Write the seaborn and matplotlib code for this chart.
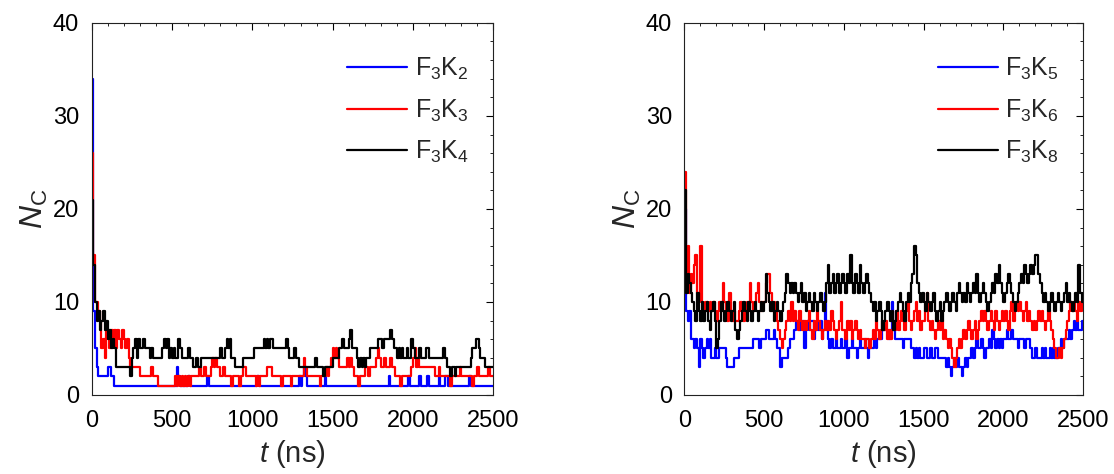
import numpy as np
import pandas as pd
import matplotlib
matplotlib.use("Agg")
import matplotlib.pyplot as plt
import seaborn as sns

sns.set_theme(style="white")
plt.rcParams["font.family"] = ["Liberation Sans", "DejaVu Sans"]
plt.rcParams["mathtext.fontset"] = "custom"
plt.rcParams["mathtext.rm"] = "Liberation Sans"
plt.rcParams["mathtext.it"] = "Liberation Sans:italic"
plt.rcParams["mathtext.default"] = "regular"

# sampling grid of the trajectories (ns)
t_ns = np.arange(0, 2501, 10)

# ---- left panel: number of clusters N_C vs t ----
nc_F3K2 = [
    34, 9, 5, 3, 2, 2, 2, 2, 2, 2, 3, 3, 2, 2, 1, 1, 1, 1, 1, 1, 1, 1, 1, 1, 1,
    1, 1, 1, 1, 1, 1, 1, 1, 1, 1, 1, 1, 1, 1, 1, 1, 1, 1, 1, 1, 1, 1, 1, 1, 1,
    1, 1, 1, 3, 2, 1, 1, 1, 1, 1, 2, 1, 1, 1, 1, 1, 1, 1, 1, 1, 1, 1, 2, 1, 1,
    1, 1, 1, 1, 1, 1, 1, 1, 1, 1, 1, 1, 1, 1, 1, 1, 1, 1, 1, 1, 1, 1, 1, 1, 1,
    1, 1, 1, 2, 1, 1, 1, 1, 1, 1, 1, 1, 1, 1, 1, 1, 1, 1, 1, 1, 1, 1, 1, 1, 1,
    1, 1, 1, 1, 2, 1, 2, 3, 2, 1, 1, 1, 1, 1, 1, 1, 1, 1, 1, 1, 2, 1, 1, 1, 1,
    1, 1, 1, 1, 1, 1, 1, 1, 1, 1, 1, 1, 1, 1, 1, 1, 1, 1, 1, 1, 1, 1, 1, 1, 1,
    1, 1, 1, 1, 1, 1, 1, 1, 1, 1, 2, 1, 1, 1, 1, 1, 1, 1, 1, 1, 1, 1, 2, 1, 1,
    1, 1, 1, 1, 2, 1, 1, 1, 1, 2, 1, 1, 1, 1, 1, 1, 2, 1, 1, 1, 2, 2, 1, 1, 1,
    1, 1, 1, 1, 1, 1, 1, 1, 1, 1, 2, 1, 1, 1, 1, 1, 1, 1, 1, 1, 1, 1, 1, 1, 1,
    1]
nc_F3K3 = [
    26, 15, 10, 10, 9, 8, 5, 6, 4, 7, 6, 5, 7, 6, 7, 5, 7, 6, 5, 7, 6, 5, 6, 4, 3,
    3, 3, 3, 3, 3, 2, 2, 2, 2, 2, 2, 2, 3, 2, 2, 2, 1, 1, 1, 1, 1, 1, 1, 1, 1,
    1, 1, 2, 1, 2, 1, 2, 1, 2, 1, 2, 1, 2, 2, 2, 2, 2, 3, 2, 2, 3, 2, 2, 2, 3,
    4, 3, 4, 3, 3, 2, 2, 3, 2, 2, 2, 2, 1, 2, 2, 2, 2, 1, 2, 3, 3, 2, 2, 2, 2,
    2, 2, 1, 2, 1, 2, 2, 2, 2, 3, 3, 3, 2, 2, 2, 2, 2, 2, 1, 2, 2, 2, 2, 2, 1,
    2, 2, 2, 2, 2, 2, 2, 4, 3, 2, 2, 2, 2, 2, 2, 2, 2, 1, 2, 2, 2, 3, 2, 3, 4,
    5, 4, 5, 4, 3, 3, 3, 3, 3, 4, 3, 4, 3, 2, 2, 2, 1, 2, 2, 2, 3, 3, 2, 3, 3,
    3, 3, 4, 5, 4, 3, 3, 4, 3, 3, 3, 4, 3, 3, 2, 2, 2, 1, 2, 2, 2, 2, 2, 2, 3,
    4, 5, 3, 4, 3, 3, 3, 3, 3, 3, 3, 3, 3, 3, 2, 2, 3, 2, 2, 2, 2, 2, 2, 1, 2,
    2, 2, 2, 2, 3, 2, 2, 2, 2, 2, 2, 2, 1, 2, 2, 3, 2, 2, 2, 2, 2, 2, 3, 2, 2,
    2]
nc_F3K4 = [
    21, 14, 10, 8, 9, 7, 8, 9, 7, 8, 6, 7, 5, 6, 5, 3, 3, 3, 3, 3, 3, 3, 3, 3, 2,
    4, 5, 6, 4, 6, 5, 5, 6, 5, 5, 5, 4, 5, 4, 4, 4, 4, 4, 4, 5, 6, 5, 6, 4, 5,
    4, 5, 4, 4, 6, 5, 4, 4, 4, 4, 5, 4, 4, 3, 3, 4, 3, 3, 4, 4, 4, 4, 4, 4, 4,
    4, 4, 4, 4, 4, 5, 4, 4, 5, 6, 5, 6, 4, 4, 3, 3, 3, 3, 3, 4, 4, 4, 4, 4, 4,
    4, 5, 5, 5, 5, 5, 5, 6, 5, 6, 5, 6, 6, 5, 5, 5, 5, 5, 5, 5, 5, 6, 5, 4, 4,
    4, 5, 4, 4, 3, 3, 3, 3, 3, 3, 3, 3, 3, 3, 4, 3, 3, 3, 3, 2, 3, 3, 3, 3, 3,
    4, 4, 4, 4, 5, 5, 6, 5, 5, 5, 6, 7, 5, 5, 5, 4, 3, 4, 3, 4, 3, 4, 4, 5, 5,
    5, 5, 5, 6, 6, 6, 5, 6, 6, 6, 6, 7, 6, 5, 5, 4, 5, 4, 5, 4, 4, 5, 4, 4, 6,
    5, 4, 4, 4, 5, 4, 4, 4, 5, 5, 4, 4, 4, 4, 4, 4, 4, 4, 4, 5, 4, 3, 3, 2, 3,
    3, 2, 3, 3, 3, 3, 3, 3, 3, 3, 3, 4, 5, 5, 6, 6, 5, 4, 4, 4, 3, 3, 3, 3, 3,
    3]

# ---- right panel ----
nc_F3K5 = [
    20, 9, 8, 9, 6, 6, 5, 6, 5, 3, 6, 5, 4, 5, 6, 5, 6, 4, 4, 5, 4, 4, 5, 5, 5,
    5, 4, 3, 3, 3, 3, 4, 4, 4, 5, 5, 5, 5, 5, 5, 5, 5, 5, 6, 6, 6, 6, 5, 6, 6,
    6, 7, 7, 6, 6, 6, 7, 6, 5, 5, 3, 4, 4, 4, 4, 5, 6, 6, 6, 7, 8, 8, 7, 8, 8,
    5, 7, 8, 7, 8, 8, 6, 7, 8, 7, 8, 6, 7, 11, 8, 6, 5, 6, 5, 5, 6, 5, 5, 6, 5,
    5, 6, 4, 5, 5, 6, 5, 5, 4, 5, 6, 5, 5, 6, 5, 4, 5, 5, 5, 6, 5, 6, 6, 6, 7,
    7, 7, 7, 6, 7, 10, 7, 6, 6, 6, 6, 6, 5, 6, 6, 6, 6, 5, 5, 4, 5, 4, 5, 4, 4,
    5, 5, 4, 4, 5, 4, 4, 5, 5, 4, 4, 4, 4, 4, 3, 4, 3, 2, 3, 4, 3, 4, 3, 3, 2,
    3, 4, 3, 4, 4, 5, 4, 5, 6, 5, 5, 6, 5, 4, 5, 5, 6, 5, 7, 6, 5, 6, 5, 6, 5,
    6, 6, 7, 6, 6, 7, 6, 6, 6, 5, 6, 6, 6, 5, 6, 6, 6, 5, 4, 4, 5, 4, 4, 4, 5,
    4, 5, 4, 4, 5, 4, 5, 4, 4, 5, 5, 6, 5, 6, 6, 6, 7, 6, 7, 8, 7, 8, 7, 7, 8,
    8]
nc_F3K6 = [
    24, 12, 16, 11, 13, 12, 14, 15, 11, 10, 16, 10, 9, 10, 10, 9, 10, 9, 10, 9, 8, 9, 10, 9, 12,
    10, 9, 8, 11, 9, 8, 9, 8, 8, 9, 10, 9, 8, 9, 10, 9, 12, 10, 9, 10, 11, 12, 10, 9, 10,
    10, 12, 13, 13, 11, 9, 10, 9, 8, 7, 6, 5, 6, 7, 8, 9, 8, 10, 8, 9, 8, 7, 9, 8, 7,
    8, 7, 8, 9, 7, 6, 8, 7, 9, 8, 7, 6, 7, 8, 7, 8, 7, 9, 8, 7, 6, 7, 8, 10, 7,
    7, 6, 8, 7, 8, 6, 7, 8, 7, 6, 7, 6, 6, 5, 6, 6, 5, 6, 7, 6, 8, 7, 6, 7, 8,
    7, 8, 6, 7, 6, 7, 8, 7, 9, 7, 8, 9, 8, 7, 9, 10, 8, 7, 8, 9, 10, 8, 9, 7, 8,
    8, 9, 11, 8, 7, 8, 7, 6, 7, 8, 7, 8, 6, 7, 6, 5, 6, 5, 4, 3, 4, 5, 6, 5, 6,
    7, 6, 7, 8, 7, 6, 7, 8, 6, 7, 8, 9, 8, 9, 8, 7, 8, 9, 8, 7, 9, 8, 7, 8, 9,
    8, 9, 8, 7, 9, 10, 8, 9, 10, 9, 10, 9, 8, 9, 10, 8, 9, 8, 7, 8, 7, 8, 9, 8, 9,
    8, 7, 8, 9, 8, 7, 6, 5, 4, 4, 5, 4, 5, 6, 7, 8, 9, 10, 9, 10, 9, 8, 10, 9, 10,
    10]
nc_F3K8 = [
    22, 11, 13, 12, 11, 10, 9, 8, 11, 9, 8, 10, 8, 9, 10, 8, 7, 9, 10, 8, 5, 6, 8, 10, 9,
    8, 9, 10, 9, 8, 9, 10, 7, 6, 7, 8, 9, 10, 9, 8, 10, 9, 8, 9, 10, 9, 8, 9, 10, 9,
    10, 13, 11, 10, 9, 10, 8, 9, 10, 9, 8, 9, 10, 11, 13, 12, 11, 12, 11, 12, 11, 10, 11, 12, 10,
    11, 9, 10, 11, 10, 9, 11, 10, 9, 10, 11, 10, 9, 10, 12, 14, 11, 12, 13, 11, 12, 13, 11, 12, 13,
    12, 11, 13, 12, 15, 12, 11, 13, 12, 11, 14, 12, 11, 12, 13, 12, 11, 10, 9, 10, 8, 9, 10, 9, 7,
    8, 9, 10, 9, 8, 9, 7, 8, 9, 10, 11, 10, 9, 8, 10, 11, 10, 12, 13, 16, 15, 12, 11, 10, 11,
    10, 9, 11, 10, 9, 10, 11, 9, 8, 9, 10, 8, 9, 10, 11, 10, 9, 10, 11, 10, 9, 11, 12, 11, 10,
    11, 10, 12, 11, 10, 11, 12, 11, 13, 11, 10, 11, 12, 11, 10, 9, 10, 11, 12, 11, 13, 12, 14, 12, 11,
    10, 11, 12, 13, 12, 11, 10, 9, 10, 11, 12, 13, 12, 14, 13, 12, 13, 14, 13, 14, 15, 15, 13, 12, 11,
    10, 11, 10, 9, 10, 11, 10, 9, 10, 11, 10, 9, 10, 11, 12, 10, 11, 10, 9, 10, 11, 10, 14, 11, 10,
    11]

left_series = {"F$_3$K$_2$": nc_F3K2, "F$_3$K$_3$": nc_F3K3, "F$_3$K$_4$": nc_F3K4}
right_series = {"F$_3$K$_5$": nc_F3K5, "F$_3$K$_6$": nc_F3K6, "F$_3$K$_8$": nc_F3K8}
colors = ["#0000ff", "#ff0000", "#000000"]


def to_long(series):
    frames = []
    for name, vals in series.items():
        frames.append(pd.DataFrame({"t": t_ns, "Nc": vals, "system": name}))
    return pd.concat(frames, ignore_index=True)


fig = plt.figure(figsize=(11.14, 4.74), dpi=100)
ax_l = fig.add_axes([0.0823, 0.1667, 0.3605, 0.785])
ax_r = fig.add_axes([0.6143, 0.1667, 0.3580, 0.785])

for ax, series in [(ax_l, left_series), (ax_r, right_series)]:
    df = to_long(series)
    sns.lineplot(data=df, x="t", y="Nc", hue="system", palette=colors,
                 estimator=None, drawstyle="steps-post", linewidth=1.6,
                 ax=ax, legend=True)
    ax.set_xlim(0, 2500)
    ax.set_ylim(0, 40)
    ax.set_xticks([0, 500, 1000, 1500, 2000, 2500])
    ax.set_yticks([0, 10, 20, 30, 40])
    ax.set_xticks(np.arange(0, 2501, 100), minor=True)
    ax.set_yticks(np.arange(0, 41, 2), minor=True)
    ax.tick_params(which="both", direction="in", top=True, right=True,
                   labelsize=17, colors="black")
    ax.tick_params(which="major", length=5, width=0.8)
    ax.tick_params(which="minor", length=2.5, width=0.6)
    ax.tick_params(axis="x", pad=11)
    ax.tick_params(axis="y", pad=9)
    for sp in ax.spines.values():
        sp.set_color("#222222")
        sp.set_linewidth(0.8)
    ax.set_xlabel("$\\it{t}$ (ns)", fontsize=21, labelpad=4)
    ax.set_ylabel("$\\it{N}_{\\rm C}$", fontsize=23, labelpad=2)
    handles, labels = ax.get_legend_handles_labels()
    for h in handles:
        h.set_linewidth(1.6)
    ax.legend(handles, labels, loc="upper left", bbox_to_anchor=(0.636, 0.912),
              frameon=False, fontsize=18, handlelength=2.4, handletextpad=0.3,
              labelspacing=0.62, borderpad=0, borderaxespad=0)

fig.savefig("out.png", dpi=100)
